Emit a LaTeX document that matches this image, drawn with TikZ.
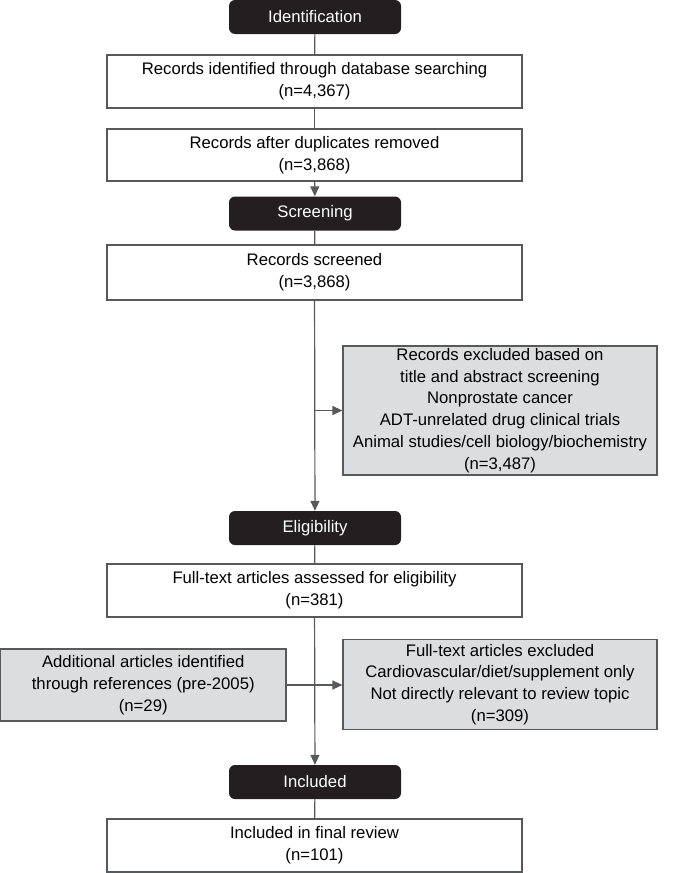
\documentclass[tikz,border=0pt]{standalone}
\usepackage{fontspec}
\setmainfont{Liberation Sans}
\usepackage{tikz}
\usetikzlibrary{arrows.meta}
\usepackage{xcolor}
\definecolor{noir}{HTML}{231F20}
\definecolor{bord}{HTML}{58595B}
\definecolor{gris}{HTML}{DCDDDE}
\definecolor{lien}{HTML}{58595B}

\tikzset{
  texte/.style={font=\fontsize{16.7}{21.7}\selectfont, align=center, inner sep=0pt},
  entete/.style={texte, fill=noir, text=white, rounded corners=6pt,
    minimum width=172pt, minimum height=34pt},
  boite/.style={texte, draw=bord, line width=1.2pt, fill=white, minimum width=415pt},
  grise/.style={texte, draw=bord, line width=1.2pt, fill=gris},
  lien/.style={draw=lien, line width=1.2pt},
  fleche/.style={lien, -{Triangle[length=10pt,width=9pt]}},
}

\begin{document}
\begin{tikzpicture}[x=1pt, y=-1pt]
    % cadre
    \useasboundingbox (0,0) rectangle (687,873);
    % identification
    \node[entete] (ident) at (315,17) {Identification};
    \node[boite, minimum height=53pt] (trouves) at (314.5,81.5)
        {Records identified through database searching\\(n=4,367)};
    \node[boite, minimum height=52pt] (doublons) at (314.5,155)
        {Records after duplicates removed\\(n=3,868)};
    % tri
    \node[entete] (tri) at (315,213.5) {Screening};
    \node[boite, minimum height=55pt] (tries) at (314.5,272.5)
        {Records screened\\(n=3,868)};
    \node[grise, minimum width=314pt, minimum height=129pt] (exclus) at (500,410.5)
        {Records excluded based on\\title and abstract screening\\Nonprostate cancer\\
         ADT-unrelated drug clinical trials\\Animal studies/cell biology/biochemistry\\(n=3,487)};
    % eligibilite
    \node[entete] (elig) at (315,528) {Eligibility};
    \node[boite, minimum height=53pt] (complets) at (314.5,590.5)
        {Full-text articles assessed for eligibility\\(n=381)};
    \node[grise, minimum width=285.5pt, minimum height=72pt] (ajouts) at (143.25,685)
        {Additional articles identified\\through references (pre-2005)\\(n=29)};
    \node[grise, minimum width=314pt, minimum height=90pt] (rejetes) at (500,684.5)
        {Full-text articles excluded\\Cardiovascular/diet/supplement only\\
         Not directly relevant to review topic\\(n=309)};
    % inclus
    \node[entete] (inclus) at (315,782) {Included};
    \node[boite, minimum height=53pt] (final) at (314.5,845.5)
        {Included in final review\\(n=101)};
    % liens
    \draw[lien] (ident) -- (trouves);
    \draw[lien] (trouves) -- (doublons);
    \draw[fleche] (doublons) -- (tri);
    \draw[lien] (tri) -- (tries);
    \draw[fleche] (tries) -- (elig);
    \coordinate (branche) at (tries.south |- exclus.west);
    \draw[fleche] (branche) -- (exclus.west);
    \draw[lien] (elig) -- (complets);
    \draw[fleche] (complets) -- (inclus);
    \draw[fleche] (ajouts.east) -- (ajouts.east -| rejetes.west);
    \draw[lien] (inclus) -- (final);
\end{tikzpicture}
\end{document}
